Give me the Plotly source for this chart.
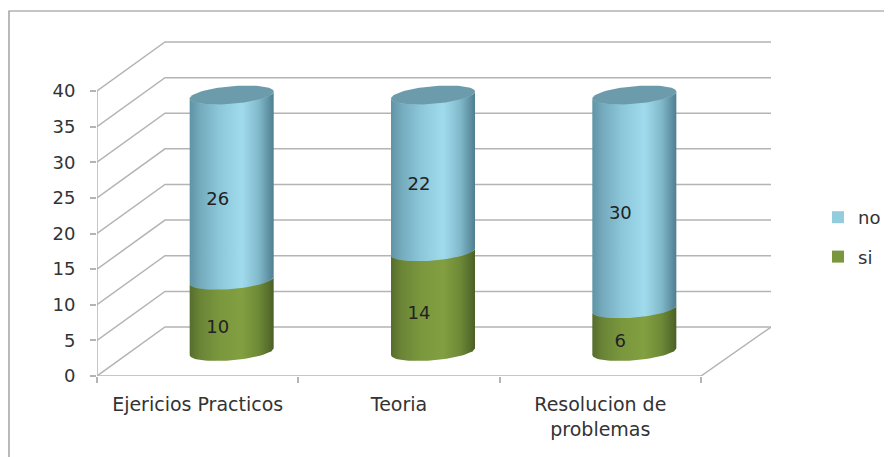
import numpy as np
import plotly.graph_objects as go

categories = ["Ejericios Practicos", "Teoria", "Resolucion de<br>problemas"]
si_values = [10, 14, 6]
no_values = [26, 22, 30]
y_ticks = [0, 5, 10, 15, 20, 25, 30, 35, 40]

PAGE = 8                          # body margin of the written page
W, H = 892 - PAGE, 457 - PAGE     # figure size inside the window
X0, X1, XBACK = 97 - PAGE, 701 - PAGE, 771 - PAGE   # front axis ends, back wall end
Y0, Y40 = 376 - PAGE, 91 - PAGE   # position of value 0 and 40 on the front plane
DX_PX, DY_PX = 68, 49             # depth offset
X_SCALE = (X1 - X0) / 3
Y_SCALE = (Y0 - Y40) / 40
DEPTH_X = DX_PX / X_SCALE
DEPTH_Y = DY_PX / Y_SCALE
YTOP = 40 + DEPTH_Y + 1 / Y_SCALE
XRIGHT = 2.5 + (XBACK - X1) / X_SCALE

CYL_RX = 42 / X_SCALE
CYL_RY = 8.8 / Y_SCALE
CYL_TILT = 3.5 / Y_SCALE
CYL_DX = 0.5 * DEPTH_X
CYL_DY = 0.5 * DEPTH_Y

GRID = "#b4b4b4"
FONT = "DejaVu Sans"
TXT = "#333333"
FS = 18

BLUE = [[0, "#5f93a6"], [0.12, "#74aabc"], [0.35, "#8cc6d9"], [0.62, "#a0dbed"],
        [0.82, "#82bacb"], [0.95, "#5d8fa1"], [1, "#4f7e90"]]
GREEN = [[0, "#566d2c"], [0.12, "#6a8436"], [0.35, "#7a973d"], [0.62, "#829f41"],
         [0.82, "#6e8a37"], [0.95, "#556c2b"], [1, "#4a5f25"]]
BLUE_TOP = "#6c9bab"
GREEN_SWATCH = "#7a973d"
BLUE_SWATCH = "#93cddd"


def arc(cx, cy, start, stop, n=40):
    t = np.linspace(start, stop, n)
    return cx + CYL_RX * np.cos(t), cy + CYL_RY * np.sin(t) + CYL_TILT * np.cos(t)


def body(cx, v0, v1):
    """Closed cylinder side between two stacked values (front arcs, y up)."""
    yb, yt = v0 + CYL_DY, v1 + CYL_DY
    xa, ya = arc(cx, yb, np.pi, 2 * np.pi)      # lower front arc, left to right
    xb, yb2 = arc(cx, yt, 2 * np.pi, np.pi)     # upper front arc, right to left
    return list(xa) + list(xb) + [xa[0]], list(ya) + list(yb2) + [ya[0]]


fig = go.Figure()

xpos = np.arange(len(categories))
# Stacked bars (legend and values); rounded bodies are drawn on top of them
for name, vals, base, col in [
    ("no", no_values, si_values, BLUE_SWATCH),
    ("si", si_values, [0] * 3, GREEN_SWATCH),
]:
    fig.add_trace(go.Bar(
        x=xpos + CYL_DX, y=vals, base=np.array(base) + CYL_DY, width=1.9 * CYL_RX,
        name=name, legendgroup=name, marker=dict(color=col, line=dict(width=0)),
        hoverinfo="skip"))

# Walls and gridlines
for v in y_ticks:
    fig.add_trace(go.Scatter(
        x=[-0.5, -0.5 + DEPTH_X, XRIGHT], y=[v, v + DEPTH_Y, v + DEPTH_Y],
        mode="lines", line=dict(color=GRID, width=1.5), showlegend=False, hoverinfo="skip"))
fig.add_trace(go.Scatter(
    x=[-0.5, -0.5, 2.5, XRIGHT], y=[40, 0, 0, DEPTH_Y],
    mode="lines", line=dict(color=GRID, width=1.5), showlegend=False, hoverinfo="skip"))

# Cylinders
for i in range(len(categories)):
    cx = xpos[i] + CYL_DX
    s, n = si_values[i], no_values[i]
    x, y = body(cx, 0, s)
    fig.add_trace(go.Scatter(x=x, y=y, mode="lines", fill="toself", line=dict(width=0),
                             fillgradient=dict(type="horizontal", colorscale=GREEN),
                             showlegend=False, hoverinfo="skip"))
    x, y = body(cx, s, s + n)
    fig.add_trace(go.Scatter(x=x, y=y, mode="lines", fill="toself", line=dict(width=0),
                             fillgradient=dict(type="horizontal", colorscale=BLUE),
                             showlegend=False, hoverinfo="skip"))
    x, y = arc(cx, s + n + CYL_DY, 0, 2 * np.pi, 80)
    fig.add_trace(go.Scatter(x=x, y=y, mode="lines", fill="toself", line=dict(width=0),
                             fillcolor=BLUE_TOP, showlegend=False, hoverinfo="skip"))

# Data labels
LBL_X = CYL_DX - 14 / X_SCALE
LBL_Y = 12 / Y_SCALE
for vals, base in [(si_values, [0] * 3), (no_values, si_values)]:
    fig.add_trace(go.Scatter(
        x=xpos + LBL_X, y=np.array(base) + np.array(vals) / 2 + LBL_Y,
        text=[str(v) for v in vals], mode="text",
        textfont=dict(family=FONT, size=FS, color="#222222"),
        showlegend=False, hoverinfo="skip"))

PLOT_TOP = Y0 - YTOP * Y_SCALE
fig.update_layout(
    width=W, height=H, autosize=False, barmode="overlay",
    paper_bgcolor="white", plot_bgcolor="white",
    margin=dict(l=X0, r=W - XBACK, t=PLOT_TOP, b=H - Y0, pad=0, autoexpand=False),
    font=dict(family=FONT, size=FS, color=TXT),
    xaxis=dict(range=[-0.5, XRIGHT], tickmode="array", tickvals=list(xpos), ticktext=categories,
               showgrid=False, zeroline=False, showline=False, ticks="", ticklabelstandoff=15,
               automargin=False,
               tickfont=dict(family=FONT, size=19, color=TXT), tickangle=0,
               minor=dict(tickmode="array", tickvals=[-0.5, 0.5, 1.5, 2.5], ticks="outside",
                          ticklen=6, tickwidth=1.5, tickcolor=GRID, showgrid=False)),
    yaxis=dict(range=[0, YTOP], tickmode="array", tickvals=y_ticks, showgrid=False,
               zeroline=False, showline=False, ticks="outside", ticklen=6, tickwidth=1.5,
               automargin=False,
               tickcolor=GRID, tickfont=dict(family=FONT, size=FS, color=TXT), ticklabelstandoff=11),
    legend=dict(x=(818 - PAGE) / W, xref="container", y=1 - (199 - PAGE) / H, yref="container",
                xanchor="left", yanchor="top",
                traceorder="grouped", tracegroupgap=13, itemwidth=30,
                font=dict(family=FONT, size=FS, color=TXT), bgcolor="rgba(0,0,0,0)"),
    shapes=[dict(type="rect", xref="paper", yref="paper",
                 x0=(9 - PAGE - X0) / (XBACK - X0), x1=(886 - PAGE - X0) / (XBACK - X0),
                 y0=(Y0 - 470) / (Y0 - PLOT_TOP),
                 y1=(Y0 - (11 - PAGE)) / (Y0 - PLOT_TOP),
                 line=dict(color="#8c8c8c", width=1.2), layer="below")],
)

fig.write_html("out.html")
